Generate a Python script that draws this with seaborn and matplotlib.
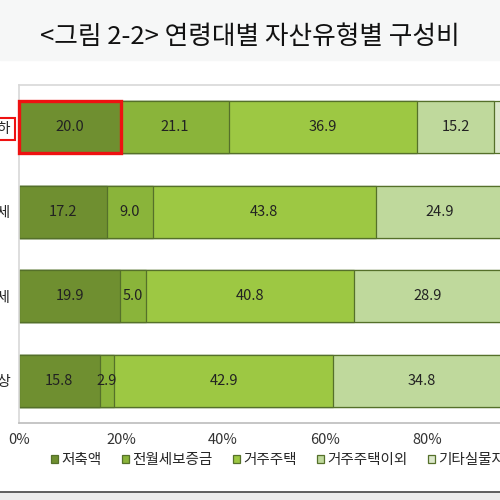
import numpy as np
import pandas as pd
import matplotlib
matplotlib.use("Agg")
import matplotlib.pyplot as plt
import seaborn as sns
from matplotlib.patches import Rectangle

# ---- Daten ----
ages = ["39세 이하", "40~49세", "50~59세", "60세 이상"]
asset_types = ["저축액", "전월세보증금", "거주주택", "거주주택이외", "기타실물자산"]
savings = [20.0, 17.2, 19.9, 15.8]
deposit = [21.1, 9.0, 5.0, 2.9]
home = [36.9, 43.8, 40.8, 42.9]
other_home = [15.2, 24.9, 28.9, 34.8]
other_real = [6.8, 5.1, 5.4, 3.6]

colors = ["#6f8f30", "#8ab43a", "#9dc843", "#bfd99c", "#dce8cc"]

sns.set_theme(style="white")
plt.rcParams['font.family'] = ['Noto Sans CJK KR', 'DejaVu Sans']

df = pd.DataFrame({"age": ages, "저축액": savings, "전월세보증금": deposit,
                   "거주주택": home, "거주주택이외": other_home, "기타실물자산": other_real})
cum = df[asset_types].cumsum(axis=1)

fig = plt.figure(figsize=(5, 5), dpi=100)
fig.patch.set_facecolor("white")
# Hintergrund Titelbereich und Fußzeile
fig.patches.append(Rectangle((0, 0.88), 1, 0.12, transform=fig.transFigure, color="#f6f7f7", zorder=-1))
fig.patches.append(Rectangle((0, 0), 1, 0.016, transform=fig.transFigure, color="#ececec", zorder=-1))
fig.add_artist(plt.Line2D([0, 1], [0.016, 0.016], transform=fig.transFigure, color="#444444", lw=1.2))

ax = fig.add_axes([0.038, 0.154, 1.02, 0.676])

# gestapelte Balken: kumulierte Summen von hinten nach vorne
for i in range(len(asset_types) - 1, -1, -1):
    sns.barplot(x=cum[asset_types[i]], y=df["age"], orient="h", color=colors[i], saturation=1,
                width=0.615, edgecolor="#55702a", linewidth=0.9, ax=ax, label=asset_types[i])

# Beschriftung der Segmente
for r in range(len(ages)):
    for i, t in enumerate(asset_types[:4]):
        v = df.loc[r, t]
        xc = cum.loc[r, t] - v / 2
        ax.text(xc, r, f"{v:.1f}", ha="center", va="center", fontsize=10.5, color="#222222")

ax.set_xlim(0, 100)
ax.set_ylim(3.5, -0.5)
ax.set_xticks([0, 20, 40, 60, 80, 100])
ax.set_xticklabels(["0%", "20%", "40%", "60%", "80%", "100%"], fontsize=10.5, color="#333333")
ax.tick_params(axis="x", length=4, color="#bfbfbf", direction="out", pad=3)
ax.tick_params(axis="y", length=0, pad=6, labelsize=10.5)
ax.set_xlabel("")
ax.set_ylabel("")
for s in ["top", "left", "right"]:
    ax.spines[s].set_color("#d9d9d9")
ax.spines["bottom"].set_color("#bfbfbf")

# roter Rahmen um erstes Segment und Beschriftung
ax.add_patch(Rectangle((0, -0.3075), savings[0], 0.615, fill=False, edgecolor="#ee1111", lw=2.4, zorder=5, clip_on=False))
lab = ax.get_yticklabels()[0]
lab.set_bbox(dict(facecolor="white", edgecolor="#ee1111", lw=1.5, pad=3))

handles, labels = ax.get_legend_handles_labels()
ax.get_legend().remove()
order = [labels.index(t) for t in asset_types]
fig.legend([handles[k] for k in order], asset_types, loc="center left", bbox_to_anchor=(0.076, 0.08),
           ncol=5, frameon=False, fontsize=10.5, handlelength=0.5, handleheight=0.5,
           handletextpad=0.2, columnspacing=1.4)

fig.text(0.5, 0.925, "<그림 2-2> 연령대별 자산유형별 구성비", ha="center", va="center", fontsize=18.5, color="#111111")

fig.savefig("out.png", dpi=100)
